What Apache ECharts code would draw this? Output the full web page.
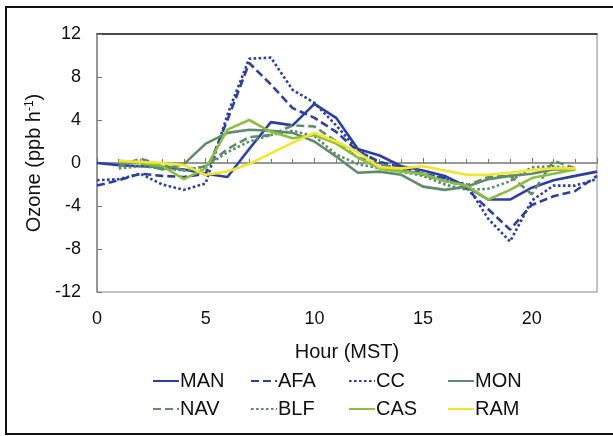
<!DOCTYPE html>
<html>
<head>
<meta charset="utf-8">
<script src="https://cdn.jsdelivr.net/npm/echarts@6/dist/echarts.min.js"></script>
<style>html,body{margin:0;padding:0;background:#fff}#c{width:613px;height:436px}</style>
</head>
<body>
<div id="c"></div>
<script>
const hours = [0,1,2,3,4,5,6,7,8,9,10,11,12,13,14,15,16,17,18,19,20,21,22,23];
const MAN = [0,-0.2,-0.3,-0.4,-0.6,-1.0,-1.3,1.3,3.8,3.5,5.5,4.2,1.3,0.7,-0.3,-0.7,-1.2,-2.2,-3.4,-3.4,-2.3,-1.6,-1.2,-0.8];
const AFA = [-2.1,-1.6,-1.0,-1.2,-1.3,-1.0,4.0,9.3,7.3,5.1,4.2,2.9,1.1,0.1,-0.4,-1.0,-1.4,-2.4,-4.3,-6.2,-3.9,-3.1,-2.6,-1.2];
const CC  = [-1.6,-1.5,-1.0,-2.0,-2.5,-1.9,4.5,9.7,9.8,6.8,5.6,3.5,1.2,0.0,-0.7,-1.0,-1.5,-2.0,-5.2,-7.3,-3.5,-2.1,-2.1,-1.5];
const MON = [null,0.1,0.0,-0.6,-0.1,1.8,2.8,3.1,3.0,2.8,2.0,0.6,-0.9,-0.8,-1.1,-2.2,-2.5,-2.2,-1.5,-1.2,-1.0,-0.6,-0.6,null];
const NAV = [null,-0.3,0.4,-0.2,-0.7,-0.3,1.3,2.4,2.6,3.5,3.4,2.0,0.5,-0.1,-0.6,-1.1,-1.7,-2.1,-1.3,-1.2,-2.9,0.2,-0.5,null];
const BLF = [null,-0.5,-0.3,-0.5,-0.7,-0.3,1.0,2.0,2.6,3.0,2.5,0.8,-0.1,-0.5,-0.8,-1.2,-2.0,-2.5,-2.4,-1.7,-0.4,-0.3,-0.6,null];
const CAS = [null,0.2,0.0,-0.3,-1.5,-0.5,3.1,4.0,2.9,2.3,2.6,1.8,0.5,-0.5,-0.8,-1.0,-1.7,-2.1,-3.4,-2.5,-1.4,-1.0,-0.6,null];
const RAM = [null,0.2,0.1,0.0,-0.2,-1.1,-0.8,-0.1,0.9,1.9,2.8,2.0,1.0,-0.4,-0.5,-0.3,-0.7,-1.1,-1.1,-0.9,-0.65,-0.5,-0.5,null];

const BLUE = '#2b40a6', GRAY = '#5f8c69', LGREEN = '#8dbf3f', YEL = '#f5e62a';
const FONT = 'Liberation Sans, Arial, Helvetica, sans-serif';

const defs = [
  {name:'MAN', data:MAN, color:BLUE, type:'solid', col:0, row:0},
  {name:'AFA', data:AFA, color:BLUE, type:[8,4], col:1, row:0},
  {name:'CC',  data:CC,  color:BLUE, type:[2.6,2.4], col:2, row:0},
  {name:'MON', data:MON, color:GRAY, type:'solid', col:3, row:0},
  {name:'NAV', data:NAV, color:GRAY, type:[8,4], col:0, row:1},
  {name:'BLF', data:BLF, color:GRAY, type:[2.6,2.4], col:1, row:1},
  {name:'CAS', data:CAS, color:LGREEN, type:'solid', col:2, row:1},
  {name:'RAM', data:RAM, color:YEL, type:'solid', col:3, row:1}
];
const colX = [152, 250, 348, 447];
const rowY = [371, 399];

const series = defs.map(d => ({
  name: d.name,
  type: 'line',
  symbol: 'none',
  showSymbol: false,
  connectNulls: false,
  animation: false,
  color: d.color,
  lineStyle: {color: d.color, width: 2.6, type: d.type},
  data: hours.map((h, i) => [h, d.data[i]]).filter(p => p[1] !== null)
}));

const legends = defs.map(d => ({
  data: [d.name],
  left: colX[d.col],
  top: rowY[d.row],
  itemWidth: 26,
  itemHeight: 20,
  itemGap: 0,
  padding: 0,
  selectedMode: false,
  itemStyle: {opacity: 0},
  lineStyle: {width: 2},
  textStyle: {fontFamily: FONT, fontSize: 20, color: '#111', padding: [0,0,0,-4]}
}));

const chart = echarts.init(document.getElementById('c'), null, {renderer: 'canvas'});
chart.setOption({
  animation: false,
  backgroundColor: '#fff',
  grid: {left: 97, right: 16, top: 34, bottom: 144, show: true, borderColor: '#888', borderWidth: 1},
  legend: legends,
  xAxis: [{
    type: 'value', min: 0, max: 23, interval: 5,
    name: 'Hour (MST)', nameLocation: 'middle', nameGap: 50,
    nameTextStyle: {fontFamily: FONT, fontSize: 20, color: '#111'},
    axisLine: {show: true, lineStyle: {color: '#777', width: 1.5}},
    axisTick: {show: true, inside: true, length: 5, lineStyle: {color: '#777'}},
    minorTick: {show: true, splitNumber: 5, length: 4, lineStyle: {color: '#777'}},
    axisLabel: {fontFamily: FONT, fontSize: 18, color: '#111', margin: 18, showMaxLabel: false},
    splitLine: {show: false}
  }, {
    type: 'value', min: 0, max: 23, position: 'top',
    axisLine: {show: true, onZero: false, lineStyle: {color: '#222', width: 1.5}},
    axisTick: {show: false}, axisLabel: {show: false}, splitLine: {show: false}
  }],
  yAxis: {
    type: 'value', min: -12, max: 12, interval: 4,
    name: 'Ozone (ppb h{sup|-1})', nameLocation: 'middle', nameGap: 46, nameRotate: 90,
    nameTextStyle: {fontFamily: FONT, fontSize: 20, color: '#111',
      rich: {sup: {fontFamily: FONT, fontSize: 12, color: '#111', verticalAlign: 'top', padding: [0,0,9,0]}}},
    axisLine: {show: true, lineStyle: {color: '#888', width: 1.5}},
    axisTick: {show: true, inside: true, length: 5, lineStyle: {color: '#777'}},
    axisLabel: {fontFamily: FONT, fontSize: 18, color: '#111', margin: 16},
    splitLine: {show: false}
  },
  graphic: [{
    type: 'rect', silent: true,
    shape: {x: 6, y: 7, width: 700, height: 427},
    style: {fill: 'none', stroke: '#111', lineWidth: 2}
  }],
  series: series
});
</script>
</body>
</html>
